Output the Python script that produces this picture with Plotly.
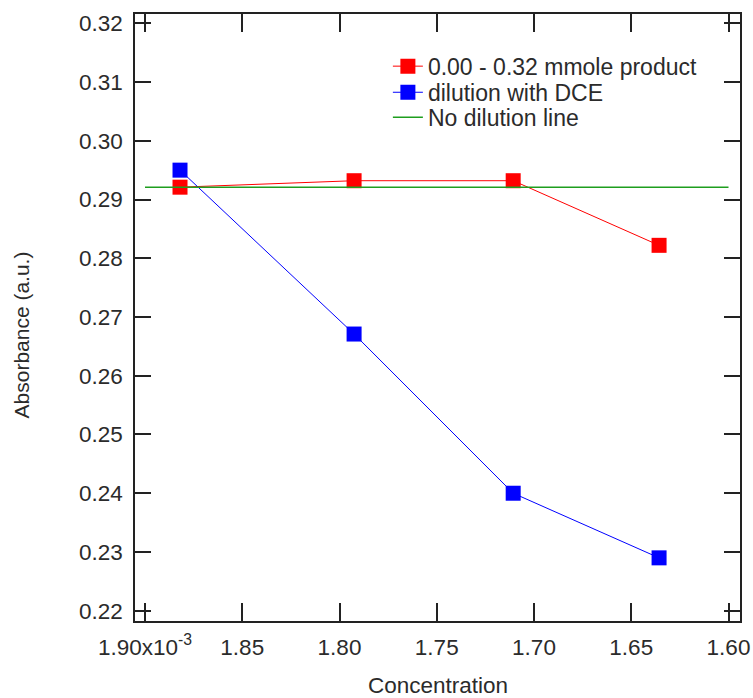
import plotly.graph_objects as go

# Concentration values (mol/L), x axis is reversed
conc = [1.882e-3, 1.7925e-3, 1.7107e-3, 1.6357e-3]
product_abs = [0.2921, 0.2932, 0.2932, 0.2822]
dilution_abs = [0.2950, 0.2671, 0.2400, 0.2290]
no_dilution_x = [1.90e-3, 1.60e-3]
no_dilution_y = [0.2921, 0.2921]

x_tickvals = [1.90e-3, 1.85e-3, 1.80e-3, 1.75e-3, 1.70e-3, 1.65e-3, 1.60e-3]
x_ticktext = ["1.90x10<sup>-3</sup>", "1.85", "1.80", "1.75", "1.70", "1.65", "1.60"]
y_tickvals = [0.22, 0.23, 0.24, 0.25, 0.26, 0.27, 0.28, 0.29, 0.30, 0.31, 0.32]
y_ticktext = ["%.2f" % v for v in y_tickvals]

FONT = "Liberation Sans, Arial, sans-serif"
TXT = "#2b2b2b"
AX = "#222222"
FS = 22.5
LFS = 23

fig = go.Figure()
fig.add_trace(go.Scatter(
    x=conc, y=product_abs, mode="lines+markers", name="0.00 - 0.32 mmole product",
    line=dict(color="#ff0000", width=1),
    marker=dict(symbol="square", size=15, color="#ff0000"),
    legend="legend",
))
fig.add_trace(go.Scatter(
    x=conc, y=dilution_abs, mode="lines+markers", name="dilution with DCE",
    line=dict(color="#0000ff", width=1),
    marker=dict(symbol="square", size=15, color="#0000ff"),
    legend="legend2",
))
fig.add_trace(go.Scatter(
    x=no_dilution_x, y=no_dilution_y, mode="lines", name="No dilution line",
    line=dict(color="#1e9e1e", width=1.5),
    legend="legend3",
))

def leg(y):
    return dict(
        x=0.418, y=y, xanchor="left", yanchor="middle",
        bgcolor="rgba(0,0,0,0)", borderwidth=0,
        font=dict(family=FONT, size=LFS, color=TXT),
        itemwidth=30,
    )

fig.update_layout(
    width=753, height=698,
    margin=dict(l=135, r=13, t=14, b=77),
    paper_bgcolor="white", plot_bgcolor="white",
    font=dict(family=FONT, size=FS, color=TXT),
    showlegend=True,
    legend=leg(0.914),
    legend2=leg(0.871),
    legend3=leg(0.830),
    xaxis=dict(
        range=[1.90514e-3, 1.59409e-3],
        tickmode="array", tickvals=x_tickvals, ticktext=x_ticktext,
        ticks="inside", ticklen=18, tickwidth=1.5, tickcolor=AX,
        showline=True, linewidth=1.5, linecolor=AX, mirror="ticks",
        showgrid=False, zeroline=False, automargin=False,
        tickfont=dict(family=FONT, size=FS, color=TXT),
        ticklabelstandoff=5,
    ),
    yaxis=dict(
        range=[0.21825, 0.32158],
        tickmode="array", tickvals=y_tickvals, ticktext=y_ticktext,
        ticks="inside", ticklen=16, tickwidth=1.5, tickcolor=AX,
        showline=True, linewidth=1.5, linecolor=AX, mirror="ticks",
        showgrid=False, zeroline=False, automargin=False,
        tickfont=dict(family=FONT, size=FS, color=TXT),
        ticklabelstandoff=6,
    ),
    annotations=[
        dict(text="Concentration", xref="paper", yref="paper", x=0.500, y=-0.106,
             xanchor="center", yanchor="middle", showarrow=False,
             font=dict(family=FONT, size=FS, color=TXT)),
        dict(text="Absorbance (a.u.)", xref="paper", yref="paper", x=-0.1868, y=0.472,
             xanchor="center", yanchor="middle", showarrow=False, textangle=-90,
             font=dict(family=FONT, size=21, color=TXT)),
    ],
)

fig.write_html("out.html")
